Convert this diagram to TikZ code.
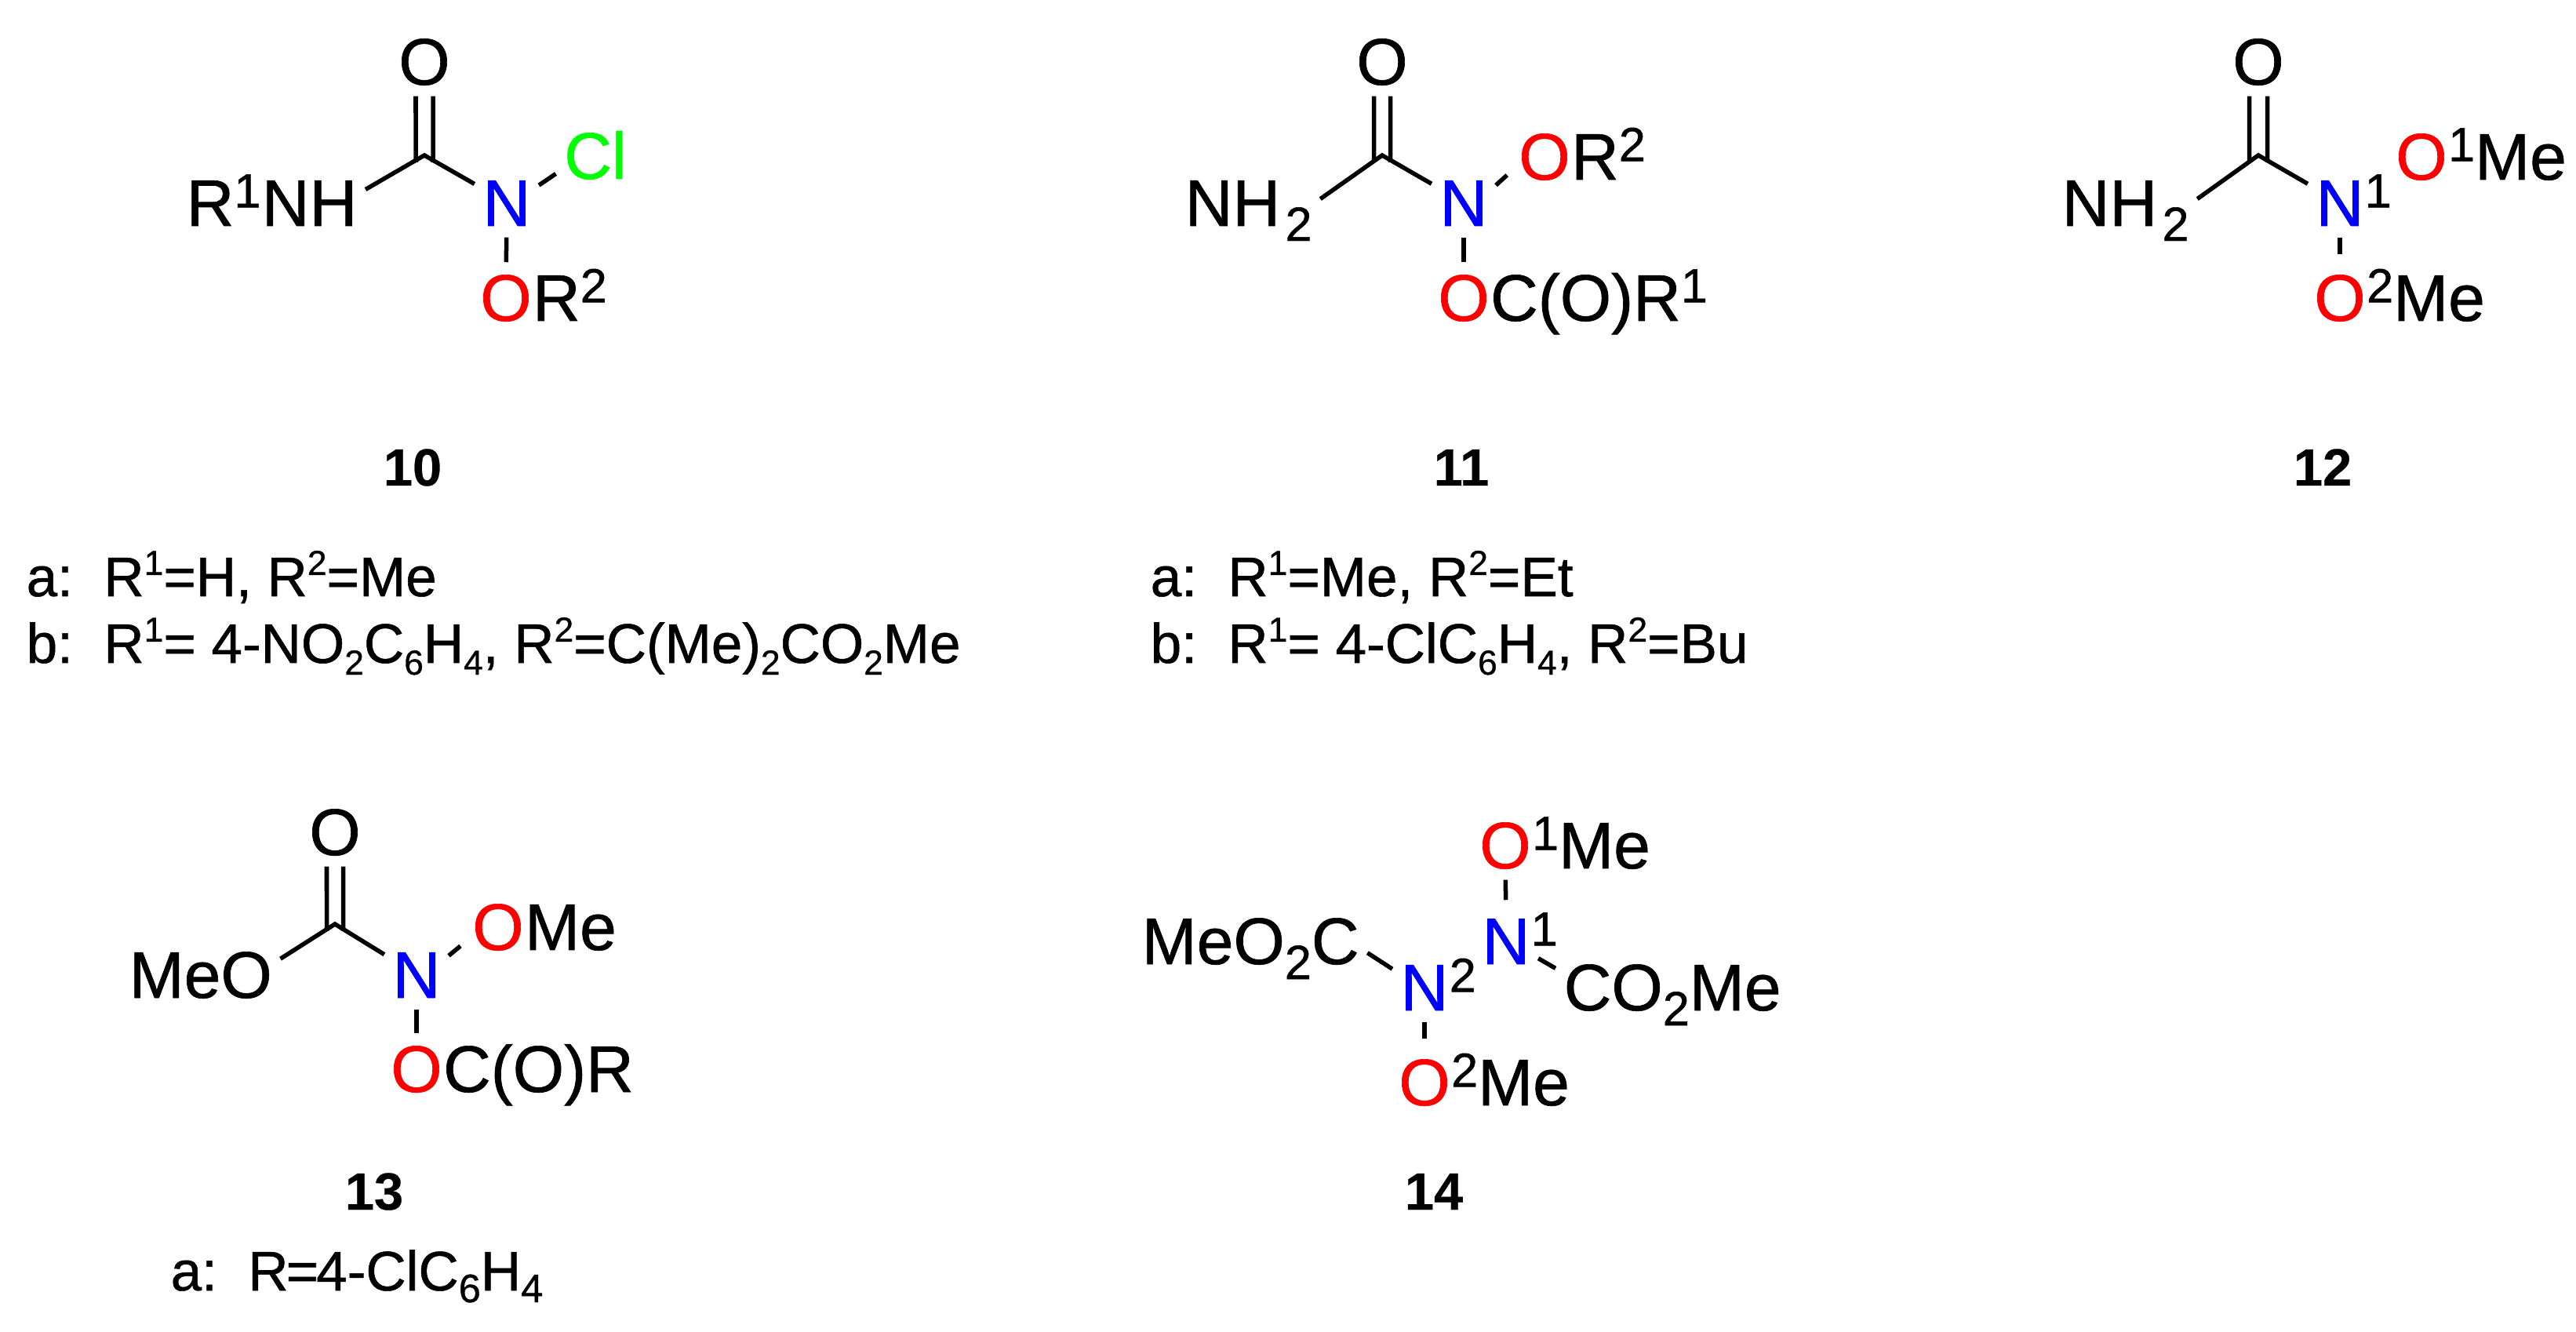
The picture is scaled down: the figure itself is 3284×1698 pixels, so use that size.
\documentclass[tikz,border=0pt]{standalone}
\usepackage{fontspec}
\setmainfont{Liberation Sans}[FakeBold=0.8,BoldFeatures={FakeBold=0.4}]
\usetikzlibrary{positioning}
\newcommand{\chsup}[1]{\raisebox{.235cm}{\fontsize{17.4pt}{17.4pt}\selectfont #1}}
\newcommand{\chsub}[1]{\raisebox{-.19cm}{\fontsize{17.4pt}{17.4pt}\selectfont #1}}
\newcommand{\lstsup}[1]{\raisebox{.27cm}{\fontsize{12.6pt}{12.6pt}\selectfont #1}}
\newcommand{\lstsub}[1]{\raisebox{-.15cm}{\fontsize{12.6pt}{12.6pt}\selectfont #1}}
\newcommand{\bigsub}[1]{\raisebox{-.15cm}{\fontsize{14.4pt}{14.4pt}\selectfont #1}}

\begin{document}
\begin{tikzpicture}[x=0.01cm,y=-0.01cm,
                   chem/.style={font=\fontsize{23.9pt}{23.9pt}\selectfont,inner sep=0pt},
                   atom/.style={chem,anchor=base,text height=.6cm,text depth=0pt,inner xsep=.1cm,inner ysep=.14cm},
                   atomN/.style={atom,text=blue},
                   atomO/.style={atom,text=red},
                   atomCl/.style={atom,text=green},
                   sub2/.style={chem,inner sep=.1cm},
                   cpd/.style={anchor=base,font=\fontsize{19pt}{19pt}\selectfont\bfseries,inner sep=0pt},
                   lst/.style={anchor=base west,font=\fontsize{20.2pt}{20.2pt}\selectfont,inner sep=0pt},
                   bond/.style={draw,line width=.055cm}]
\useasboundingbox (0,0) rectangle (3284,1698);

\coordinate (c10) at (541,198);
\node[atom] (o10) at (541,108) {O};
\node[atom,anchor=base east] (nh10) at (466,288) {NH};
\node[chem,base left=-.1cm of nh10] (r10) {R\chsup{1}};
\node[atomN] (n10) at (646,288) {N};
\node[atomCl] (cl10) at (759,228) {Cl};
\node[atomO] (oa10) at (645,409) {O};
\node[chem,base right=-.1cm of oa10] (ra10) {R\chsup{2}};
\draw[bond] (nh10.13) -- (c10) -- (n10);
\draw[bond] ([xshift=-.11cm]o10.south) -- ([shift={(-11,9)}]c10);
\draw[bond] ([xshift=.11cm]o10.south) -- ([shift={(11,9)}]c10);
\draw[bond] (n10.28) -- (cl10.205);
\draw[bond] (n10) -- (oa10);
\node[cpd] (l10) at (526,619) {10};
\node[lst] (a10) at (33,760) {a:\ \ R\lstsup{1}=H, R\lstsup{2}=Me};
\node[lst] (b10) at (33,845) {b:\ \ R\lstsup{1}= 4-NO\lstsub{2}C\lstsub{6}H\lstsub{4}, R\lstsup{2}=C(Me)\lstsub{2}CO\lstsub{2}Me};

\coordinate (c11) at (1762,198);
\node[atom] (o11) at (1762,108) {O};
\node[atom,anchor=base west,inner xsep=0pt] (nh11) at (1510,288) {NH};
\node[sub2,base right=.05cm-.1cm of nh11] (s11) {\chsub{2}};
\node[atomN] (n11) at (1866,288) {N};
\node[atomO] (oa11) at (1969,229) {O};
\node[chem,base right=-.1cm of oa11] (ra11) {R\chsup{2}};
\node[atomO] (ob11) at (1866,409) {O};
\node[chem,base right=-.1cm of ob11] (rb11) {C(O)R\chsup{1}};
\draw[bond] (s11.north east) -- (c11) -- (n11);
\draw[bond] ([xshift=-.105cm]o11.south) -- ([shift={(-10.5,9)}]c11);
\draw[bond] ([xshift=.105cm]o11.south) -- ([shift={(10.5,9)}]c11);
\draw[bond,shorten >=.06cm] (n11.28) -- (oa11.205);
\draw[bond] (n11) -- (ob11);
\node[cpd] (l11) at (1863,619) {11};
\node[lst] (a11) at (1466,760) {a:\ \ R\lstsup{1}=Me, R\lstsup{2}=Et};
\node[lst] (b11) at (1466,845) {b:\ \ R\lstsup{1}= 4-ClC\lstsub{6}H\lstsub{4}, R\lstsup{2}=Bu};

\coordinate (c12) at (2879,198);
\node[atom] (o12) at (2879,108) {O};
\node[atom,anchor=base west,inner xsep=0pt] (nh12) at (2628,288) {NH};
\node[sub2,base right=.05cm-.1cm of nh12] (s12) {\chsub{2}};
\node[atomN] (n12) at (2983,288) {N};
\node[chem,base right=-.1cm of n12] (t12) {\chsup{1}};
\node[atomO] (oa12) at (3087,229) {O};
\node[chem,base right=-.1cm of oa12] (ra12) {\chsup{1}Me};
\node[atomO] (ob12) at (2983,409) {O};
\node[chem,base right=-.1cm of ob12] (rb12) {\chsup{2}Me};
\draw[bond] (s12.north east) -- (c12) -- (n12);
\draw[bond] ([xshift=-.115cm]o12.south) -- ([shift={(-11.5,9)}]c12);
\draw[bond] ([xshift=.115cm]o12.south) -- ([shift={(11.5,9)}]c12);
\draw[bond,shorten >=.1cm] (n12) -- (ob12);
\node[cpd] (l12) at (2961,619) {12};

\coordinate (c13) at (427,1178);
\node[atom] (o13) at (427,1090) {O};
\node[atom,anchor=base west] (me13) at (154,1272) {MeO};
\node[atomN] (n13) at (531,1272) {N};
\node[atomO] (oa13) at (635,1211) {O};
\node[chem,base right=-.1cm of oa13] (ra13) {Me};
\node[atomO] (ob13) at (531,1392) {O};
\node[chem,base right=-.1cm of ob13] (rb13) {C(O)R};
\draw[bond] (me13.11) -- (c13) -- (n13);
\draw[bond] ([xshift=-.105cm]o13.south) -- ([shift={(-10.5,9)}]c13);
\draw[bond] ([xshift=.105cm]o13.south) -- ([shift={(10.5,9)}]c13);
\draw[bond,shorten >=.06cm] (n13.30) -- (oa13.206);
\draw[bond] (n13) -- (ob13);
\node[cpd] (l13) at (477,1542) {13};
\node[lst] (a13) at (217,1645) {a:\ \ R\kern-.03cm=\kern-.03cm 4-ClC\bigsub{6}H\bigsub{4}};

\node[atomO] (oa14) at (1919,1107) {O};
\node[chem,base right=-.1cm of oa14] (ra14) {\chsup{1}Me};
\node[atomN] (na14) at (1920,1229) {N};
\node[chem,base right=-.1cm of na14] (ta14) {\chsup{1}};
\node[atomN] (nb14) at (1816,1288) {N};
\node[chem,base right=-.1cm of nb14] (tb14) {\chsup{2}};
\node[atomO] (ob14) at (1816,1409) {O};
\node[chem,base right=-.1cm of ob14] (rb14) {\chsup{2}Me};
\node[atom,anchor=base west] (ca14) at (1445,1229) {MeO\chsub{2}C};
\node[atom,anchor=base west] (cb14) at (1983,1288) {CO\chsub{2}Me};
\draw[bond,shorten >=.07cm] (oa14) -- (na14);
\draw[bond,shorten >=.1cm] (nb14) -- (ob14);
\draw[bond] (ca14.354) -- (nb14.151);
\draw[bond] (na14.331) -- (cb14.171);
\node[cpd] (l14) at (1828,1542) {14};
\end{tikzpicture}
\end{document}
